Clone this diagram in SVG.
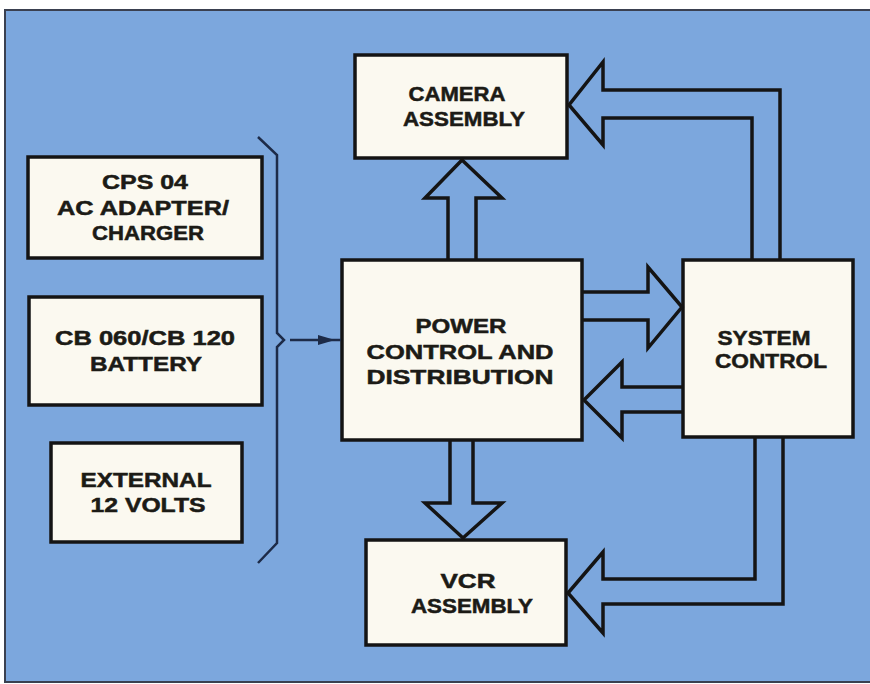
<svg xmlns="http://www.w3.org/2000/svg" width="870" height="684" viewBox="0 0 870 684">
<style>
.box{fill:#fbf9f0;stroke:#141414;stroke-width:3.5}
.t{font-family:"Liberation Sans",Arial,sans-serif;font-weight:bold;font-size:20px;fill:#1c1b16;stroke:#1c1b16;stroke-width:0.5;text-anchor:middle}
.c{fill:none;stroke:#141414;stroke-width:3.5;stroke-linejoin:miter}
</style>
<rect x="0" y="0" width="870" height="684" fill="#ffffff"/>
<rect x="5" y="10" width="866" height="672" fill="#7ca7dd" stroke="#3a4050" stroke-width="2"/>
<g id="cps04">
<rect class="box" x="28" y="157" width="234" height="101"/>
<text class="t" x="145" y="189" textLength="86" lengthAdjust="spacingAndGlyphs">CPS 04</text>
<text class="t" x="143" y="215" textLength="172" lengthAdjust="spacingAndGlyphs">AC ADAPTER/</text>
<text class="t" x="148" y="240" textLength="112" lengthAdjust="spacingAndGlyphs">CHARGER</text>
</g>
<g id="battery">
<rect class="box" x="29" y="297" width="233" height="108"/>
<text class="t" x="145" y="345" textLength="180" lengthAdjust="spacingAndGlyphs">CB 060/CB 120</text>
<text class="t" x="146" y="371" textLength="112" lengthAdjust="spacingAndGlyphs">BATTERY</text>
</g>
<g id="external">
<rect class="box" x="51" y="443" width="191" height="99"/>
<text class="t" x="146" y="487" textLength="131" lengthAdjust="spacingAndGlyphs">EXTERNAL</text>
<text class="t" x="148" y="512" textLength="115" lengthAdjust="spacingAndGlyphs">12 VOLTS</text>
</g>
<g id="camera">
<rect class="box" x="355" y="55" width="212" height="103"/>
<text class="t" x="457" y="101" textLength="97" lengthAdjust="spacingAndGlyphs">CAMERA</text>
<text class="t" x="464" y="126" textLength="122" lengthAdjust="spacingAndGlyphs">ASSEMBLY</text>
</g>
<g id="power">
<rect class="box" x="342" y="260" width="240" height="180"/>
<text class="t" x="461" y="333" textLength="91" lengthAdjust="spacingAndGlyphs">POWER</text>
<text class="t" x="460" y="359" textLength="187" lengthAdjust="spacingAndGlyphs">CONTROL AND</text>
<text class="t" x="460" y="384" textLength="187" lengthAdjust="spacingAndGlyphs">DISTRIBUTION</text>
</g>
<g id="system">
<rect class="box" x="683" y="260" width="170" height="177"/>
<text class="t" x="764" y="345" textLength="93" lengthAdjust="spacingAndGlyphs">SYSTEM</text>
<text class="t" x="771" y="368" textLength="112" lengthAdjust="spacingAndGlyphs">CONTROL</text>
</g>
<g id="vcr">
<rect class="box" x="366" y="540" width="200" height="105"/>
<text class="t" x="468" y="588" textLength="55" lengthAdjust="spacingAndGlyphs">VCR</text>
<text class="t" x="472" y="613" textLength="122" lengthAdjust="spacingAndGlyphs">ASSEMBLY</text>
</g>
<g id="connectors">
<path d="M258,137 L277,155 L277,333 L284,340 L277,347 L277,543 L258,563" fill="none" stroke="#1d2b48" stroke-width="2.5"/>
<line x1="290" y1="340" x2="341" y2="340" stroke="#1d2b48" stroke-width="2.5"/>
<polygon points="318,335 335,340 318,345" fill="#1d2b48"/>
<polyline class="c" points="448,260 448,198 425,198 462,160 502,198 476,198 476,260"/>
<polyline class="c" points="780,260 780,90 603,90 603,62 569,105 603,145 603,118 752,118 752,260"/>
<polyline class="c" points="582,292 648,292 648,267 682,307 648,348 648,320 582,320"/>
<polyline class="c" points="683,387 622,387 622,362 584,400 622,438 622,412 683,412"/>
<polyline class="c" points="450,440 450,503 425,503 463,538 502,503 473,503 473,440"/>
<polyline class="c" points="755,437 755,579 603,579 603,552 568,593 603,633 603,604 783,604 783,437"/>
</g>
</svg>
